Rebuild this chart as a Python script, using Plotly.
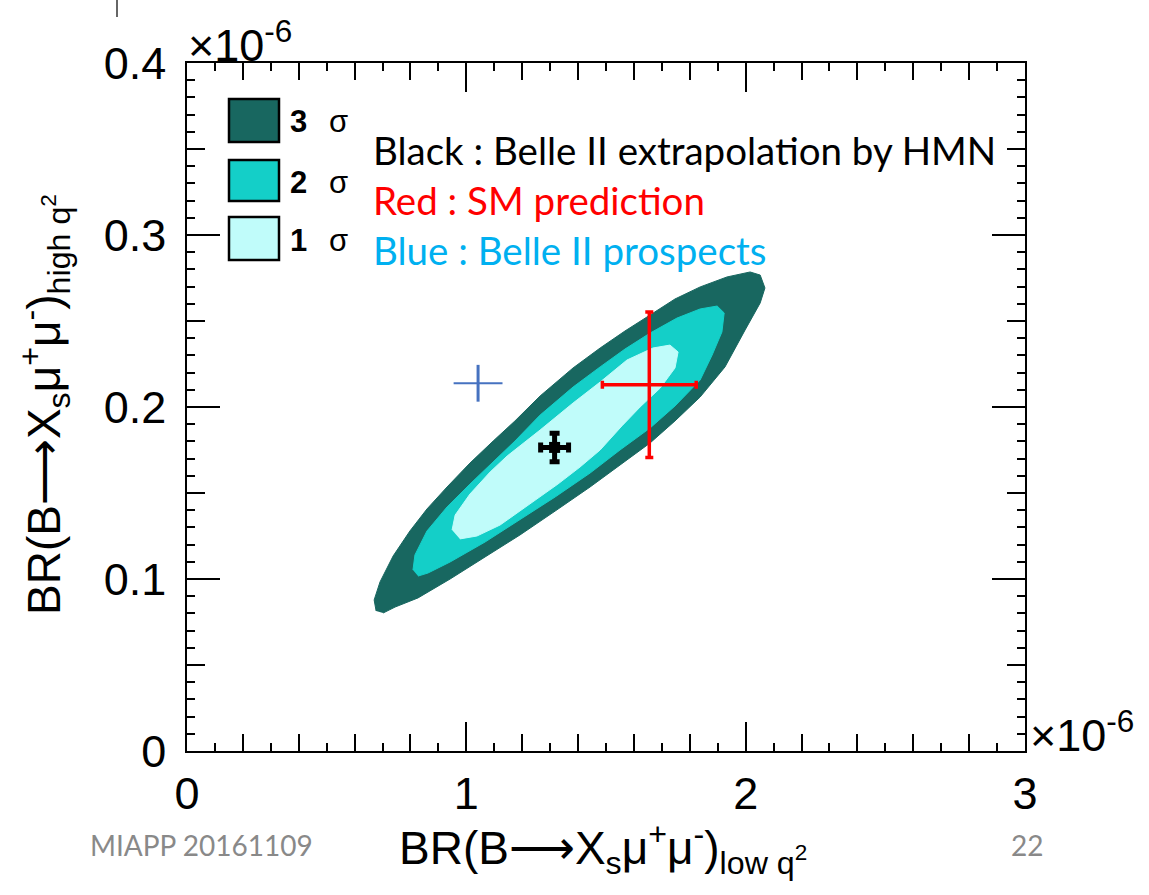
import plotly.graph_objects as go

# Allowed regions in the (low q^2, high q^2) plane, outline vertices in units of 1e-6
SIG3_X = [0.677, 0.670, 0.691, 0.738, 0.798, 0.859, 0.931, 1.013, 1.096, 1.174,
          1.264, 1.382, 1.479, 1.568, 1.658, 1.747, 1.837, 1.933, 2.016, 2.052,
          2.069, 2.052, 1.998, 1.926, 1.837, 1.747, 1.658, 1.550, 1.443, 1.318,
          1.192, 1.067, 0.942, 0.827, 0.745, 0.702]
SIG3_Y = [0.0814, 0.0878, 0.0983, 0.1134, 0.1279, 0.1407, 0.1535, 0.1674, 0.1802, 0.1919,
          0.2064, 0.2227, 0.2343, 0.2442, 0.2535, 0.2628, 0.2698, 0.2756, 0.2785, 0.2767,
          0.2692, 0.2605, 0.2448, 0.2233, 0.2058, 0.1919, 0.1791, 0.1663, 0.1535, 0.1395,
          0.1256, 0.1128, 0.1000, 0.0890, 0.0837, 0.0802]

SIG2_X = [0.809, 0.816, 0.859, 0.931, 1.013, 1.096, 1.174, 1.264, 1.382, 1.479,
          1.568, 1.658, 1.754, 1.837, 1.898, 1.923, 1.915, 1.880, 1.837, 1.747,
          1.658, 1.550, 1.443, 1.318, 1.192, 1.067, 0.942, 0.863, 0.827]
SIG2_Y = [0.1052, 0.1140, 0.1279, 0.1419, 0.1552, 0.1680, 0.1802, 0.1953, 0.2116, 0.2233,
          0.2337, 0.2430, 0.2517, 0.2570, 0.2587, 0.2547, 0.2436, 0.2302, 0.2157, 0.2006,
          0.1878, 0.1750, 0.1616, 0.1477, 0.1343, 0.1215, 0.1099, 0.1035, 0.1017]

SIG1_X = [0.949, 0.960, 1.013, 1.085, 1.146, 1.264, 1.382, 1.479, 1.575, 1.668,
          1.729, 1.758, 1.747, 1.694, 1.622, 1.557, 1.479, 1.407, 1.328, 1.228,
          1.121, 1.038, 0.977]
SIG1_Y = [0.1285, 0.1372, 0.1494, 0.1622, 0.1715, 0.1866, 0.2023, 0.2145, 0.2273, 0.2343,
          0.2360, 0.2320, 0.2227, 0.2110, 0.2000, 0.1890, 0.1750, 0.1651, 0.1552, 0.1436,
          0.1314, 0.1250, 0.1233]

# Belle II extrapolation (HMN): central value and errors
HMN_X, HMN_Y, HMN_EX, HMN_EY = 1.316, 0.1765, 0.050, 0.0083
# SM prediction
SM_X, SM_Y, SM_EX, SM_EY = 1.655, 0.2130, 0.168, 0.0423
# Belle II prospects
PR_X, PR_Y, PR_EX, PR_EY = 1.042, 0.2138, 0.0875, 0.0107

X_TICKS = [0, 1, 2, 3]
Y_TICKS = [0, 0.1, 0.2, 0.3, 0.4]
Y_TICK_TEXT = ["0", "0.1", "0.2", "0.3", "0.4"]

C3, C2, C1 = "#186760", "#14cfc8", "#c0fcfa"
AXFONT = "Liberation Sans, Arial, Helvetica, sans-serif"
SLIDEFONT = "Lato, Open Sans, sans-serif"

fig = go.Figure()

for xs, ys, col in [(SIG3_X, SIG3_Y, C3), (SIG2_X, SIG2_Y, C2), (SIG1_X, SIG1_Y, C1)]:
    fig.add_trace(go.Scatter(x=xs, y=ys, mode="lines", fill="toself", fillcolor=col,
                             line=dict(color=col, width=1), hoverinfo="skip", showlegend=False))

fig.add_trace(go.Scatter(
    x=[PR_X], y=[PR_Y], mode="markers", marker=dict(size=1, color="rgba(0,0,0,0)"),
    error_x=dict(type="data", array=[PR_EX], color="#4672c0", thickness=1.8, width=0),
    error_y=dict(type="data", array=[PR_EY], color="#4672c0", thickness=3, width=0),
    showlegend=False, hoverinfo="skip"))

fig.add_trace(go.Scatter(
    x=[SM_X], y=[SM_Y], mode="markers", marker=dict(size=1, color="rgba(0,0,0,0)"),
    error_x=dict(type="data", array=[SM_EX], color="#ff0000", thickness=3.5, width=4),
    error_y=dict(type="data", array=[SM_EY], color="#ff0000", thickness=3.5, width=4),
    showlegend=False, hoverinfo="skip"))

fig.add_trace(go.Scatter(
    x=[HMN_X], y=[HMN_Y], mode="markers", marker=dict(size=11, color="black", symbol="square"),
    error_x=dict(type="data", array=[HMN_EX], color="black", thickness=5, width=5),
    error_y=dict(type="data", array=[HMN_EY], color="black", thickness=5, width=5),
    showlegend=False, hoverinfo="skip"))

# invisible trace carrying the intermediate tick axes
fig.add_trace(go.Scatter(x=[None], y=[None], xaxis="x2", yaxis="y2", showlegend=False))

tick_common = dict(ticks="inside", tickcolor="black", tickwidth=1.5, showgrid=False,
                   zeroline=False, mirror="ticks")

fig.update_layout(
    width=1149, height=895, autosize=False,
    margin=dict(l=187, r=124, t=63, b=144, pad=0),
    paper_bgcolor="white", plot_bgcolor="white",
    xaxis=dict(range=[0, 3], tickmode="array", tickvals=X_TICKS,
               ticktext=[str(v) for v in X_TICKS], ticklen=29,
               showline=True, linecolor="black", linewidth=1.5,
               minor=dict(tickmode="linear", tick0=0, dtick=0.1, ticks="inside", ticklen=8,
                          tickwidth=1.5, tickcolor="black", showgrid=False),
               tickfont=dict(family=AXFONT, size=45, color="black"),
               ticklabelstandoff=2, **tick_common),
    yaxis=dict(range=[0, 0.4], tickmode="array", tickvals=Y_TICKS, ticktext=Y_TICK_TEXT,
               ticklen=33, showline=True, linecolor="black", linewidth=1.5,
               minor=dict(tickmode="linear", tick0=0, dtick=0.01, ticks="inside", ticklen=8,
                          tickwidth=1.5, tickcolor="black", showgrid=False),
               tickfont=dict(family=AXFONT, size=45, color="black"),
               ticklabelstandoff=10, **tick_common),
    xaxis2=dict(overlaying="x", anchor="y", side="bottom", range=[0, 3], tickmode="linear",
                tick0=0, dtick=0.2, ticklen=17, showticklabels=False, showline=False, **tick_common),
    yaxis2=dict(overlaying="y", anchor="x", side="left", range=[0, 0.4], tickmode="linear",
                tick0=0, dtick=0.05, ticklen=18, showticklabels=False, showline=False, **tick_common),
)


def px(xp):
    return (xp - 187) / 838.0


def py(yp):
    return (751 - yp) / 688.0


annotations = [
    dict(text="BR(B\u27f6X<sub>s</sub>\u03bc<sup>+</sup>\u03bc<sup>-</sup>)<sub>low q<sup>2</sup></sub>",
         x=px(603), y=py(848), xanchor="center", yanchor="middle",
         font=dict(family=AXFONT, size=46, color="black")),
    dict(text="BR(B\u27f6X<sub>s</sub>\u03bc<sup>+</sup>\u03bc<sup>-</sup>)<sub>high q<sup>2</sup></sub>",
         x=px(44), y=py(405), xanchor="center", yanchor="middle", textangle=-90,
         font=dict(family=AXFONT, size=46, color="black")),
    dict(text="\u00d710<sup>-6</sup>", x=px(186), y=py(42), xanchor="left", yanchor="middle",
         font=dict(family=AXFONT, size=45, color="black")),
    dict(text="\u00d710<sup>-6</sup>", x=px(1028), y=py(732), xanchor="left", yanchor="middle",
         font=dict(family=AXFONT, size=45, color="black")),
    dict(text="Black : Belle II extrapolation by HMN", x=px(371), y=py(150),
         xanchor="left", yanchor="middle", font=dict(family=SLIDEFONT, size=38.5, color="black")),
    dict(text="Red : SM prediction", x=px(371), y=py(200),
         xanchor="left", yanchor="middle", font=dict(family=SLIDEFONT, size=38.5, color="#ff0000")),
    dict(text="Blue : Belle II prospects", x=px(371), y=py(250),
         xanchor="left", yanchor="middle", font=dict(family=SLIDEFONT, size=38.5, color="#00b0f0")),
    dict(text="MIAPP 20161109", x=px(88), y=py(845), xanchor="left", yanchor="middle",
         font=dict(family=SLIDEFONT, size=28, color="#898989")),
    dict(text="22", x=px(1027), y=py(845), xanchor="center", yanchor="middle",
         font=dict(family=SLIDEFONT, size=28, color="#898989")),
]

# sigma legend
legend_rows = [("3", C3, 99, 142, 121), ("2", C2, 160, 201, 182), ("1", C1, 217, 260, 240)]
shapes = []
for lab, col, top, bot, mid in legend_rows:
    shapes.append(dict(type="rect", xref="paper", yref="paper",
                       x0=px(229), x1=px(279), y0=py(bot), y1=py(top),
                       fillcolor=col, line=dict(color="black", width=2.5)))
    annotations.append(dict(text="<b>" + lab + "</b>\u2002\u2009\u03c3", x=px(288), y=py(mid),
                            xanchor="left", yanchor="middle",
                            font=dict(family=AXFONT, size=31, color="black")))

shapes.append(dict(type="line", xref="paper", yref="paper", x0=px(117), x1=px(117),
                   y0=py(0), y1=py(17), line=dict(color="#333333", width=1.5)))

for a in annotations:
    a.setdefault("xref", "paper")
    a.setdefault("yref", "paper")
    a.setdefault("showarrow", False)

fig.update_layout(annotations=annotations, shapes=shapes)

fig.write_html("out.html")
